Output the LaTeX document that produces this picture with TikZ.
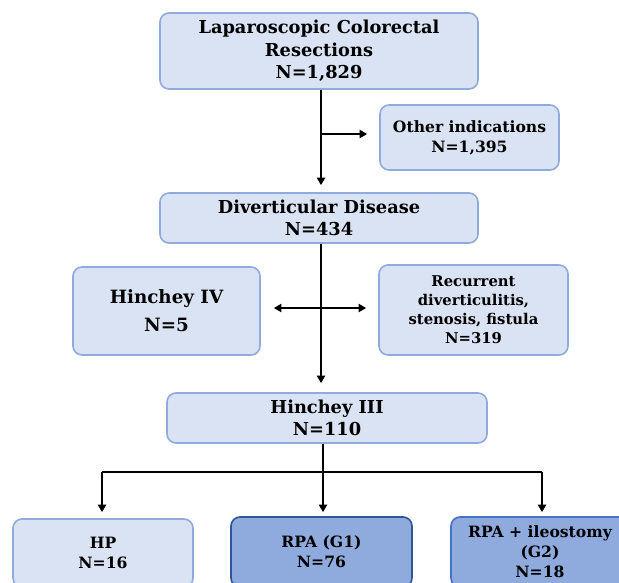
\documentclass[tikz,border=0pt]{standalone}
\usepackage{fontspec}
\setmainfont{DejaVu Serif}
\usetikzlibrary{arrows.meta}
\definecolor{lightfill}{HTML}{DAE3F3}
\definecolor{lightedge}{HTML}{8FAADC}
\definecolor{darkfill}{HTML}{8FAADC}
\definecolor{darkedge}{HTML}{2F5597}
\definecolor{midedge}{HTML}{4472C4}
\begin{document}
\begin{tikzpicture}[x=1pt,y=-1pt,
  lbox/.style={draw=lightedge, fill=lightfill, line width=1.6pt, rounded corners=9pt,
    align=center, inner sep=0pt},
  dbox/.style={lbox, draw=darkedge, fill=darkfill},
  mbox/.style={lbox, draw=midedge, fill=darkfill},
  conn/.style={line width=1.8pt, black},
  arr/.style={conn, -{Triangle[length=7.5pt,width=8pt]}},
  darr/.style={conn, {Triangle[length=7.5pt,width=8pt]}-{Triangle[length=7.5pt,width=8pt]}},
  big/.style={font=\bfseries\fontsize{17.8}{22.5}\selectfont},
  mid/.style={font=\bfseries\fontsize{15.6}{20}\selectfont},
  small/.style={font=\bfseries\fontsize{14.8}{19}\selectfont}]
\useasboundingbox (0,0) rectangle (619,582);
\clip (0,0) rectangle (619,582);
\fill[white] (0,0) rectangle (619,582);

\coordinate (sp) at (321,0);
\coordinate (sq) at (323,0);

\node[lbox, big, minimum width=318pt, minimum height=76pt] (b1) at (319,51)
  {Laparoscopic Colorectal\\Resections\\N=1,829};
\node[lbox, mid, minimum width=179pt, minimum height=65pt] (oth) at (469.5,137.5)
  {Other indications\\N=1,395};
\node[lbox, big, minimum width=318pt, minimum height=50pt] (div) at (319,218)
  {Diverticular Disease\\N=434};
\node[lbox, font=\bfseries\fontsize{18.3}{28}\selectfont, minimum width=187pt, minimum height=88pt] (h4) at (166.5,311)
  {Hinchey IV\\N=5};
\node[lbox, small, minimum width=189pt, minimum height=90pt] (rec) at (473.5,310)
  {Recurrent\\diverticulitis,\\stenosis, fistula\\N=319};
\node[lbox, big, minimum width=320pt, minimum height=50pt] (h3) at (327,418)
  {Hinchey III\\N=110};
\node[lbox, mid, minimum width=180pt, minimum height=68pt] (hp) at (103,553)
  {HP\\N=16};
\node[dbox, mid, minimum width=181pt, minimum height=70pt] (g1) at (321.5,552)
  {RPA (G1)\\N=76};
\node[mbox, mid, minimum width=178pt, minimum height=70pt] (g2) at (540,552)
  {RPA + ileostomy\\(G2)\\N=18};

% spine from top box to diverticular disease
\draw[arr] (b1.south -| sp) -- ([yshift=7pt]div.north -| sp);
\coordinate (br1) at (321,134);
\draw[arr] (br1) -- ([xshift=-12pt]oth.west |- br1);

% spine from diverticular disease to Hinchey III
\draw[arr] (div.south -| sp) -- ([yshift=9pt]h3.north -| sp);
\coordinate (br2) at (321,308);
\draw[darr] ([xshift=13pt]h4.east |- br2) -- ([xshift=-12pt]rec.west |- br2);

% Hinchey III split
\coordinate (hs) at (323,472);
\draw[conn] (h3.south -| sq) -- (hs);
\coordinate (hl) at (102,472);
\coordinate (hr) at (542,472);
\draw[conn] (hl) -- (hr);
\draw[arr] (hl) -- ([yshift=6pt]hp.north -| hl);
\draw[arr] (hs) -- ([yshift=4pt]g1.north -| hs);
\draw[arr] (hr) -- ([yshift=4pt]g2.north -| hr);
\end{tikzpicture}
\end{document}
